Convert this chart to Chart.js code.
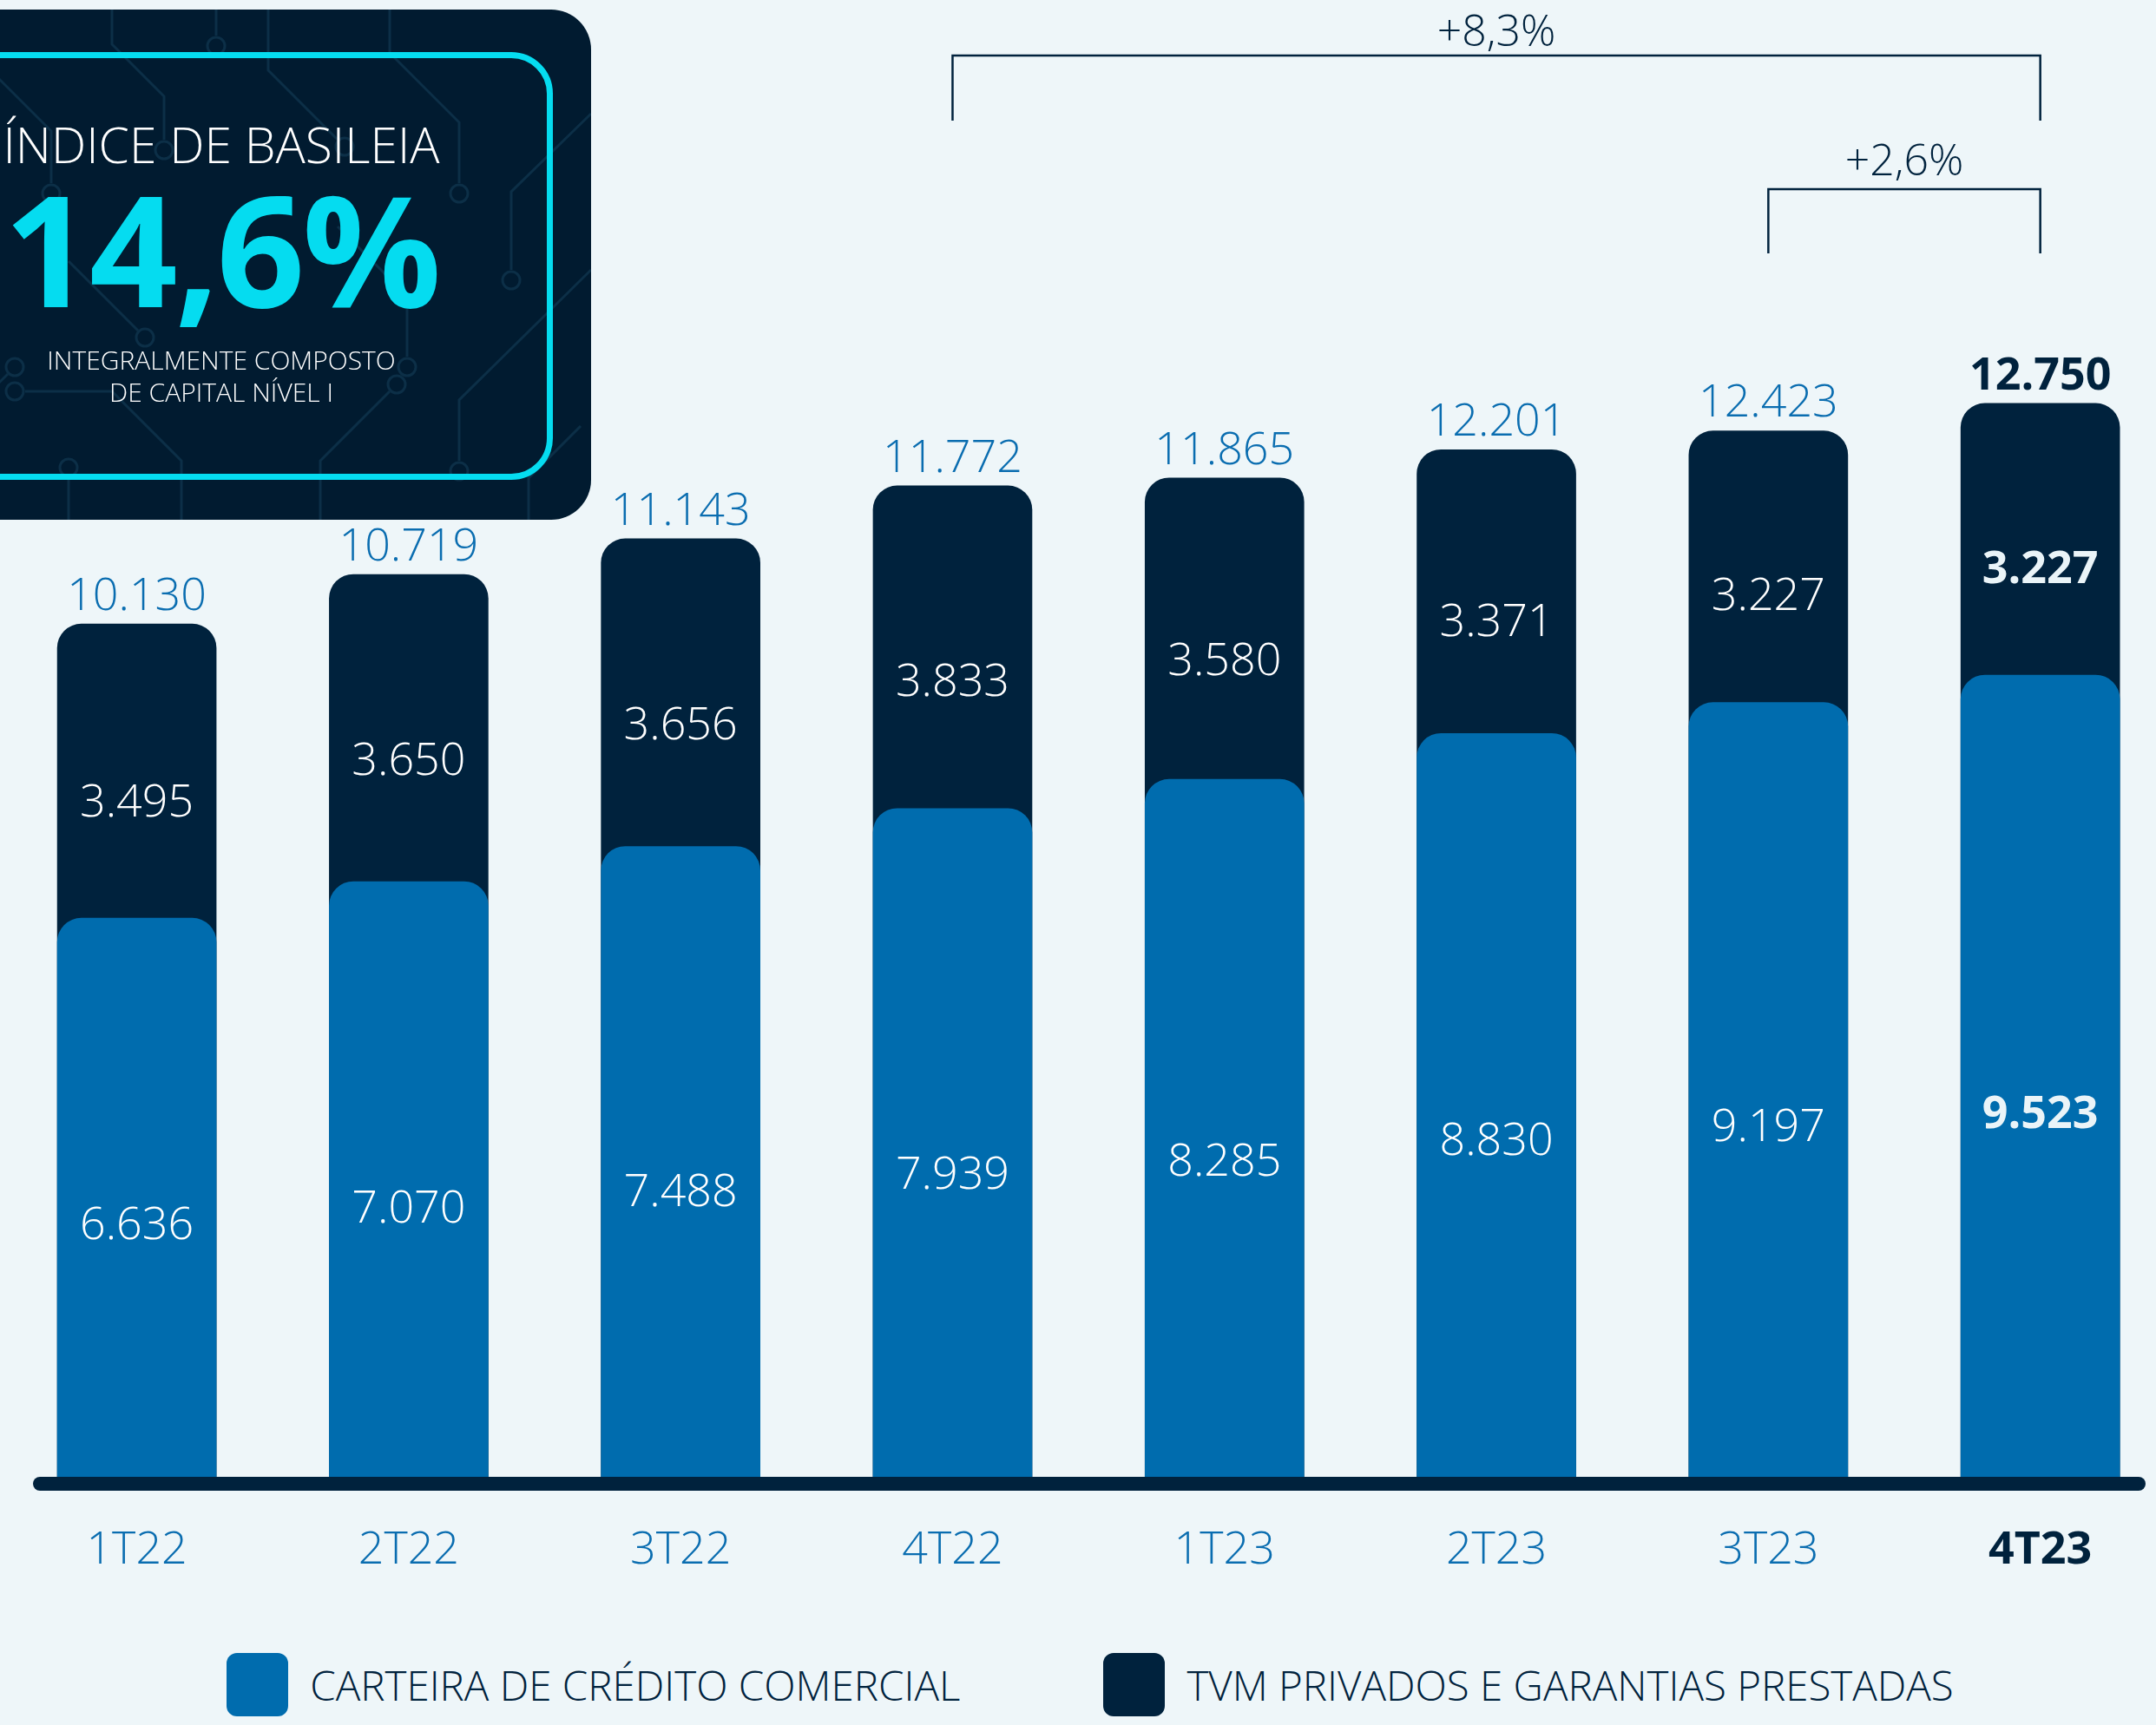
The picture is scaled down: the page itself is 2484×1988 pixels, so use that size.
<!DOCTYPE html>
<html lang="pt-BR">
<head>
<meta charset="utf-8">
<title>Índice de Basileia</title>
<script src="https://cdn.jsdelivr.net/npm/chart.js@4.4.1/dist/chart.umd.min.js"></script>
<style>
  html, body { margin: 0; padding: 0; background: #eef6f9; }
  body { width: 2484px; height: 1988px; position: relative; overflow: hidden; font-family: 'Open Sans', sans-serif; }
  #chartWrap { position: absolute; left: 0; top: 0; width: 2484px; height: 1860px; }
  .basileia { position: absolute; left: -171px; top: 11px; width: 852px; height: 588px; background: #011b30; border-radius: 46px; overflow: hidden; z-index: 2; }
  .basileia svg { position: absolute; left: 0; top: 0; }
  .basileia .frame { position: absolute; left: 44px; top: 49px; width: 750px; height: 479px; border: 7px solid #05dcf0; border-radius: 48px; }
  .basileia .t { position: absolute; left: 0; width: 852px; text-align: center; line-height: 1; white-space: nowrap; }
  .t.title { top: 127px; font-size: 57px; font-weight: 300; color: #ffffff; }
  .t.big { top: 185px; font-size: 178px; font-weight: 700; color: #05dcf0; letter-spacing: -3px; }
  .t.sub1 { top: 389px; font-size: 30px; font-weight: 300; color: #ffffff; }
  .t.sub2 { top: 426px; font-size: 30px; font-weight: 300; color: #ffffff; }
  #legend { position: absolute; left: 14px; top: 1905px; width: 2484px; display: flex; justify-content: center; gap: 165px; }
  #legend .item { display: flex; align-items: center; }
  #legend .swatch { width: 71px; height: 73px; border-radius: 12px; margin-right: 25px; }
  #legend .item span { font-size: 47.5px; font-weight: 300; color: #00223d; line-height: 73px; white-space: nowrap; }
</style>
</head>
<body>
<div id="chartWrap"><canvas id="chart"></canvas></div>

<div class="basileia">
  <svg width="852" height="588" viewBox="0 0 852 588" fill="none" stroke="#0c2f47" stroke-width="3">
    <path d="M60 0 L60 90 L120 150 L120 260"/><circle cx="120" cy="272" r="10"/>
    <path d="M150 0 L150 60 L230 140 L230 200"/><circle cx="230" cy="212" r="10"/>
    <path d="M300 0 L300 40 L360 100 L360 150"/><circle cx="360" cy="162" r="10"/>
    <path d="M480 0 L480 70 L560 150"/><circle cx="568" cy="158" r="10"/>
    <path d="M620 0 L620 50 L700 130 L700 200"/><circle cx="700" cy="212" r="10"/>
    <path d="M852 120 L760 210 L760 300"/><circle cx="760" cy="312" r="10"/>
    <path d="M852 300 L700 450 L700 520"/><circle cx="700" cy="532" r="10"/>
    <path d="M540 588 L540 520 L620 440"/><circle cx="628" cy="432" r="10"/>
    <path d="M380 588 L380 520 L300 440 L200 440"/><circle cx="188" cy="440" r="10"/>
    <path d="M100 588 L100 500 L180 420"/><circle cx="188" cy="412" r="10"/>
    <path d="M0 300 L80 380 L80 460"/><circle cx="80" cy="472" r="10"/>
    <path d="M250 290 L330 370"/><circle cx="338" cy="378" r="10"/>
    <path d="M560 250 L640 330 L640 400"/><circle cx="640" cy="412" r="10"/>
    <path d="M780 588 L780 540 L840 480"/>
    <path d="M420 0 L420 30"/><circle cx="420" cy="42" r="10"/>
    <path d="M250 588 L250 540"/><circle cx="250" cy="528" r="10"/>
  </svg>
  <div class="frame"></div>
  <div class="t title">ÍNDICE DE BASILEIA</div>
  <div class="t big">14,6%</div>
  <div class="t sub1">INTEGRALMENTE COMPOSTO</div>
  <div class="t sub2">DE CAPITAL NÍVEL I</div>
</div>

<div id="legend"></div>

<script>
// Composição do índice de Basileia, R$ milhões por trimestre
const quarters = ['1T22', '2T22', '3T22', '4T22', '1T23', '2T23', '3T23', '4T23'];
const carteira = [6636, 7070, 7488, 7939, 8285, 8830, 9197, 9523];
const tvm = [3495, 3650, 3656, 3833, 3580, 3371, 3227, 3227];
const totals = [10130, 10719, 11143, 11772, 11865, 12201, 12423, 12750];
const seriesNames = ['CARTEIRA DE CRÉDITO COMERCIAL', 'TVM PRIVADOS E GARANTIAS PRESTADAS'];
const growthLabels = ['+8,3%', '+2,6%'];
const growthFrom = [3, 6];
const growthTo = [7, 7];

const FONT = "'Open Sans', sans-serif";
const NAVY = '#00223d';
const BLUE = '#006cae';
const LABEL_BLUE = '#0a6db0';
const seriesColors = [BLUE, NAVY];
const last = quarters.length - 1;

// 10130 -> "10.130"
const fmt = v => String(v).replace(/\B(?=(\d{3})+(?!\d))/g, '.');

// legend (html, below the canvas)
const legendEl = document.getElementById('legend');
seriesNames.forEach((name, i) => {
  const item = document.createElement('div');
  item.className = 'item';
  item.innerHTML = '<div class="swatch" style="background:' + seriesColors[i] + '"></div><span>' + name + '</span>';
  legendEl.appendChild(item);
});

// values inside / above the bars, the axis line and the growth brackets
const barLabels = {
  id: 'barLabels',
  afterDatasetsDraw(chart) {
    const ctx = chart.ctx;
    const blueMeta = chart.getDatasetMeta(0);
    const darkMeta = chart.getDatasetMeta(1);
    const size = 52;
    const capOff = size * 0.36;
    ctx.save();
    ctx.textAlign = 'center';
    ctx.textBaseline = 'alphabetic';
    quarters.forEach((q, i) => {
      const b = blueMeta.data[i], d = darkMeta.data[i];
      const bold = i === last;
      ctx.font = (bold ? '700 ' : '300 ') + size + 'px ' + FONT;
      ctx.fillStyle = bold ? '#eaf4f8' : '#ffffff';
      ctx.fillText(fmt(carteira[i]), b.x, b.y + 0.545 * (b.base - b.y) + capOff);
      ctx.fillText(fmt(tvm[i]), d.x, d.y + 0.6 * (b.y - d.y) + capOff);
      ctx.fillStyle = bold ? NAVY : LABEL_BLUE;
      ctx.fillText(fmt(totals[i]), d.x, d.y - 35 + capOff);
    });

    // thick base line
    const a = chart.chartArea;
    ctx.strokeStyle = NAVY;
    ctx.lineWidth = 16;
    ctx.lineCap = 'round';
    ctx.beginPath();
    ctx.moveTo(a.left + 8, a.bottom + 8);
    ctx.lineTo(a.right - 8, a.bottom + 8);
    ctx.stroke();

    // brackets
    const xs = chart.scales.x;
    const levels = [{ bar: 64, leg: 139, text: 35 }, { bar: 218, leg: 292, text: 184 }];
    ctx.lineWidth = 2.5;
    ctx.lineCap = 'butt';
    ctx.font = '300 50px ' + FONT;
    ctx.fillStyle = NAVY;
    growthLabels.forEach((lbl, k) => {
      const x1 = xs.getPixelForValue(growthFrom[k]);
      const x2 = xs.getPixelForValue(growthTo[k]);
      const lv = levels[k];
      ctx.beginPath();
      ctx.moveTo(x1, lv.leg);
      ctx.lineTo(x1, lv.bar);
      ctx.lineTo(x2, lv.bar);
      ctx.lineTo(x2, lv.leg);
      ctx.stroke();
      ctx.fillText(lbl, (x1 + x2) / 2, lv.text + 50 * 0.36);
    });
    ctx.restore();
  }
};

new Chart(document.getElementById('chart'), {
  type: 'bar',
  data: {
    datasets: [
      {
        label: seriesNames[0],
        data: quarters.map((q, i) => ({ x: i, y: carteira[i] })),
        backgroundColor: BLUE,
        order: 1
      },
      {
        // dark bar runs up to the total; the blue bar is drawn over its lower part
        label: seriesNames[1],
        data: quarters.map((q, i) => ({ x: i, y: totals[i] })),
        backgroundColor: NAVY,
        order: 2
      }
    ]
  },
  options: {
    responsive: true,
    maintainAspectRatio: false,
    animation: false,
    devicePixelRatio: 1,
    datasets: { bar: { grouped: false, barThickness: 183, borderRadius: 28, borderSkipped: 'start' } },
    layout: { padding: { top: 300, left: 38, right: 12, bottom: 0 } },
    plugins: { legend: { display: false }, tooltip: { enabled: false } },
    scales: {
      x: {
        type: 'linear',
        offset: false,
        min: -0.3817,
        max: 7.3873,
        grid: { display: false, drawTicks: false, offset: false },
        border: { display: false },
        afterBuildTicks: s => { s.ticks = quarters.map((q, i) => ({ value: i })); },
        afterFit: s => { s.height = 158; },
        ticks: {
          padding: 54,
          autoSkip: false,
          maxRotation: 0,
          callback: v => quarters[v],
          color: c => c.index === last ? NAVY : LABEL_BLUE,
          font: c => ({ family: FONT, size: 52, weight: c.index === last ? '700' : '300' })
        }
      },
      // keeps the 1T22 / 2T22 totals clear of the Basileia box
      y: { display: false, min: 0, max: 14450 }
    }
  },
  plugins: [barLabels]
});
</script>
</body>
</html>
